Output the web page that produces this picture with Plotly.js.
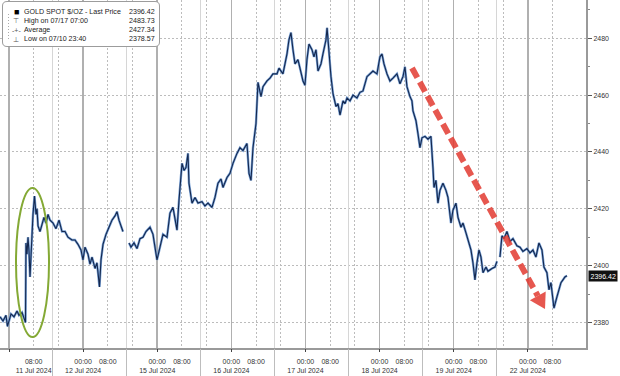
<!DOCTYPE html>
<html><head><meta charset="utf-8">
<script src="https://cdn.plot.ly/plotly-3.0.1.min.js"></script>
<style>html,body{margin:0;padding:0;background:#fff;}#chart{width:620px;height:376px;}</style>
</head><body><div id="chart"></div>
<script>
// trading days shown on the axis (weekend compressed)
const tradingDays = ['2024-07-11','2024-07-12','2024-07-15','2024-07-16','2024-07-17','2024-07-18','2024-07-19','2024-07-22'];
const dayLabels = ['11 Jul 2024','12 Jul 2024','15 Jul 2024','16 Jul 2024','17 Jul 2024','18 Jul 2024','19 Jul 2024','22 Jul 2024'];
const timeLabels = ['00:00','08:00'];

// trading hours since 11 Jul 00:00 (negative = 10 Jul evening)
const hours = [
-2.91,-1.94,-0.97,-0.49,0.65,1.62,2.59,3.24,4.21,4.86,5.34,5.50,5.83,6.15,6.48,6.80,7.12,7.45,7.77,8.26,
8.74,9.07,9.39,10.04,10.69,11.33,11.98,12.63,13.28,14.25,15.22,16.19,17.16,18.13,19.10,20.40,21.37,22.34,23.31,23.96,
24.61,25.58,26.23,26.88,27.85,28.49,29.30,29.79,30.44,31.41,32.38,33.35,34.32,34.97,35.62,36.27,36.91,37.9,
38.86,39.50,40.48,41.45,42.42,43.39,44.36,45.66,46.63,47.92,48.89,49.86,51.16,52.13,53.10,53.75,54.40,55.05,
56.02,56.67,57.31,57.96,58.28,59.26,60.23,61.20,62.49,63.46,64.44,65.73,66.70,67.67,68.65,69.29,70.59,71.56,
72.53,73.83,74.80,75.77,77.06,77.71,78.36,79.01,79.98,80.63,81.60,82.25,83.54,84.51,85.48,86.78,87.43,88.72,
90.02,90.66,91.31,91.96,92.61,93.58,94.55,95.20,95.84,96.49,97.14,98.11,98.76,99.41,100.06,101.03,101.67,102.65,
103.00,103.62,104.27,104.92,105.89,106.54,107.19,108.16,108.81,109.46,110.43,111.40,112.68,113.65,114.63,115.92,
116.89,117.86,119.16,120.13,120.78,121.43,122.40,123.37,124.34,125.63,126.61,127.58,128.22,128.87,129.84,130.49,
130.82,131.79,132.43,133.08,133.73,134.70,135.67,136.64,137.29,137.62,138.26,138.91,139.56,140.53,141.50,142.15,
143.12,143.77,144.74,145.39,146.36,147.01,147.98,148.63,149.60,150.24,150.89,151.54,152.19,152.84,153.49,154.46,
155.10,156.40,157.37,158.02,158.5,158.99,159.63,160.28,161.25,162.22,163.20,164.49,165.46,166.43,167.73,168.70,
169.67,170.64,171.61,172.59,173.23,174.20,174.85,175.50,176.15,176.47,177.44,178.09,178.74,179.39,180.03,180.68
];
const prices = [
2382,2380.5,2382.5,2378.6,2383,2382,2384,2382.5,2383.5,2381.5,2380,2408,2404,2410,2405,2396,2404,2412,2418,2424.5,
2418,2420,2414,2412,2415,2417,2415,2418,2416,2415,2413,2416,2412,2412,2410,2409,2409,2407.5,2405.5,2402,
2406.5,2404,2400.5,2403,2399,2401,2392.5,2402,2407.5,2411,2413.5,2416,2417.5,2419,2416,2414,2412,null,
2408,2406.5,2408,2406,2409.5,2410,2412,2413.5,2411,2402,2406.5,2411,2410,2418.5,2420.5,2416,2412.5,2423,
2436,2433.5,2434.5,2439.5,2429,2422,2424,2422,2422.5,2421,2422,2420.5,2424,2429,2430.5,2427.5,2431,2432.5,
2436,2439.5,2441.5,2440.5,2443,2432.5,2430,2441.5,2450,2464.5,2459.5,2463,2465,2466,2467.5,2467.5,2469.5,2467.5,
2474.5,2479.5,2482,2476,2471,2472.5,2468.5,2465,2463.5,2472.5,2478,2476,2473.5,2476,2468.5,2471,2474.5,2479.5,
2483.7,2473.5,2466.5,2460.5,2456,2457,2453,2458,2457,2459,2458,2460,2459,2461,2461.5,2466.5,
2467.5,2468.5,2467.5,2473.5,2474.5,2471,2467.5,2465,2466,2467.5,2464,2466.5,2470,2463,2459.5,2458,
2454.5,2451,2446.5,2441.5,2445,2445.5,2444.5,2445.5,2434.5,2427.5,2430,2422,2426.5,2429,2426.5,2424,
2415,2419.5,2422,2417,2413.5,2415,2411.5,2409,2405.5,2401,2395,2401,2405.5,2403,2397.5,2399.5,
2398,2399,2399.5,2401.5,null,2403,2410.5,2409.5,2412,2408.5,2409.5,2407,2406.5,2405,2406,2404.5,
2405.5,2403,2408,2405.5,2399.5,2397.5,2391.5,2394,2386.5,2385,2389,2391.5,2394,2395,2396,2396.42
];

const seriesName = 'GOLD SPOT $/OZ - Last Price';
const statLabels = ['High on 07/17 07:00','Average','Low on 07/10 23:40'];
const statValues = ['2483.73','2427.34','2378.57'];
const yTicks = [2380,2400,2420,2440,2460,2480];

function toDate(h){
  let base, rem;
  if(h < 0){ base = Date.UTC(2024,6,10); rem = 24 + h; }
  else { const d = Math.min(Math.floor(h/24), tradingDays.length-1); const p = tradingDays[d].split('-');
    base = Date.UTC(+p[0], +p[1]-1, +p[2]); rem = h - 24*d; }
  return new Date(base + rem*3600e3).toISOString().slice(0,19).replace('T',' ');
}
const times = hours.map(toDate);
const at = (d, hh) => tradingDays[d] + ' ' + hh;

// axis ticks
const tv = [], tt = [];
tradingDays.forEach((d,i)=>{
  if(i===0){ tv.push(at(i,'08:00')); tt.push(timeLabels[1] + '<br>' + dayLabels[i]); }
  else { tv.push(at(i,'00:00')); tt.push(timeLabels[0] + '<br>' + dayLabels[i]); tv.push(at(i,'08:00')); tt.push(timeLabels[1]); }
});
const midn = tradingDays.map((d,i)=>at(i,'00:00'));
const sess = tradingDays.slice(0,7).map((d,i)=>at(i,'14:00'));
const dots = tradingDays.map((d,i)=>at(i,'08:00')).concat(tradingDays.slice(0,7).map((d,i)=>at(i,'16:00')));

const xr = ['2024-07-10 21:05','2024-07-22 18:51'];
const rb = [{bounds:['sat','mon']}];
const F = 'Liberation Sans, Arial, sans-serif';
const W = 586, H = 348;
const px = v => v/W, py = v => 1 - v/H;

const traces = [
  {x:times, y:prices, type:'scatter', mode:'lines', line:{color:'#7aa2d6', width:2.4}, connectgaps:false, hoverinfo:'skip', showlegend:false},
  {x:times, y:prices, type:'scatter', mode:'lines', line:{color:'#14284f', width:1.1}, connectgaps:false, showlegend:false},
  {x:[], y:[], xaxis:'x2', type:'scatter', showlegend:false},
  {x:[], y:[], xaxis:'x3', type:'scatter', showlegend:false},
  {x:[], y:[], xaxis:'x4', type:'scatter', showlegend:false}
];

const baseX = {type:'date', range:xr, rangebreaks:rb, fixedrange:true, zeroline:false};
const layout = {
  width:620, height:376, margin:{l:0, r:620-W, t:0, b:376-H, pad:0},
  paper_bgcolor:'#fff', plot_bgcolor:'#fff', showlegend:false,
  font:{family:F, size:7, color:'#333'},
  xaxis: Object.assign({}, baseX, {tickmode:'array', tickvals:tv, ticktext:tt, ticks:'', showgrid:false, tickangle:0,
    ticklabelstandoff:6,
    showline:true, linecolor:'#9a9a9a', linewidth:1.5, tickfont:{family:F, size:7, color:'#333'}, automargin:false}),
  xaxis2: Object.assign({}, baseX, {overlaying:'x', anchor:'y', tickmode:'array', tickvals:midn, ticks:'outside', ticklen:3,
    tickcolor:'#444', showticklabels:false, showgrid:true, gridcolor:'#b0b0b0', gridwidth:1.5, showline:false}),
  xaxis3: Object.assign({}, baseX, {overlaying:'x', anchor:'y', tickmode:'array', tickvals:sess, ticks:'outside', ticklen:28,
    tickcolor:'#bdbdbd', tickwidth:1, showticklabels:false, showgrid:true, gridcolor:'#d6d6d6', gridwidth:1, showline:false}),
  xaxis4: Object.assign({}, baseX, {overlaying:'x', anchor:'y', tickmode:'array', tickvals:dots, ticks:'',
    showticklabels:false, showgrid:true, gridcolor:'#bcbcbc', griddash:'2px,2px', gridwidth:1, showline:false}),
  yaxis: {side:'right', range:[2371, 2493.5], tickmode:'linear', tick0:yTicks[0], dtick:yTicks[1]-yTicks[0],
    ticks:'outside', ticklen:4, tickcolor:'#555', tickfont:{family:F, size:7, color:'#333'},
    showline:true, linecolor:'#9a9a9a', linewidth:2, showgrid:true, gridcolor:'#bcbcbc', griddash:'2px,2px',
    zeroline:false, fixedrange:true, automargin:false,
    minor:{dtick:10, ticks:'outside', ticklen:2, tickcolor:'#888', showgrid:false}},
  shapes: [
    // legend box
    {type:'path', xref:'paper', yref:'paper', layer:'above',
     path:`M ${px(7)},${py(1.5)} L ${px(155)},${py(1.5)} Q ${px(159.5)},${py(1.5)} ${px(159.5)},${py(6)} L ${px(159.5)},${py(42)} Q ${px(159.5)},${py(46.5)} ${px(155)},${py(46.5)} L ${px(7)},${py(46.5)} Q ${px(2.5)},${py(46.5)} ${px(2.5)},${py(42)} L ${px(2.5)},${py(6)} Q ${px(2.5)},${py(1.5)} ${px(7)},${py(1.5)} Z`,
     fillcolor:'#ffffff', line:{color:'#9c9c9c', width:1}},
    {type:'line', xref:'paper', yref:'paper', layer:'above', x0:px(8.5), x1:px(8.5), y0:py(14), y1:py(40),
     line:{color:'#aaa', width:1, dash:'1px,2px'}},
    // green ellipse
    {type:'circle', xref:'paper', yref:'paper', layer:'above', x0:px(16), x1:px(49), y0:py(337), y1:py(188),
     line:{color:'#84a935', width:2}},
    // red dashed arrow
    {type:'line', xref:'paper', yref:'paper', layer:'above', x0:px(412), y0:py(68), x1:px(537.8), y1:py(295.9),
     line:{color:'rgba(226,58,48,0.85)', width:6, dash:'11px,5px'}},
    {type:'path', xref:'paper', yref:'paper', layer:'above',
     path:`M ${px(545)},${py(309)} L ${px(545.7)},${py(291.6)} L ${px(529.9)},${py(300.2)} Z`,
     fillcolor:'rgba(226,58,48,0.85)', line:{width:0}}
  ],
  annotations: []
};

// legend contents
const rowsY = [11.7, 20.7, 30, 39.3];
const icons = ['■','⊤','-+-','⊥'];
const leftTexts = [seriesName].concat(statLabels);
const rightTexts = [prices[prices.length-1].toFixed(2)].concat(statValues);
rowsY.forEach((ry,i)=>{
  layout.annotations.push({xref:'paper', yref:'paper', x:px(16), y:py(ry), xanchor:'center', yanchor:'middle', showarrow:false,
    text:icons[i], font:{family:F, size: i===0?9:7, color: i===0?'#000':'#555'}});
  layout.annotations.push({xref:'paper', yref:'paper', x:px(21.5), y:py(ry), xanchor:'left', yanchor:'middle', showarrow:false,
    text:leftTexts[i], font:{family:F, size:7.1, color:'#222'}});
  layout.annotations.push({xref:'paper', yref:'paper', x:px(157), y:py(ry), xanchor:'right', yanchor:'middle', showarrow:false,
    text:rightTexts[i], font:{family:F, size:7.1, color:'#222'}});
});
// last price tag
layout.annotations.push({xref:'paper', yref:'y', x:1, xshift:2, y:prices[prices.length-1], xanchor:'left', yanchor:'middle',
  showarrow:false, text:prices[prices.length-1].toFixed(2), bgcolor:'#111', borderpad:1.5,
  font:{family:F, size:7, color:'#fff'}});

Plotly.newPlot('chart', traces, layout, {staticPlot:true, displayModeBar:false});
</script></body></html>
